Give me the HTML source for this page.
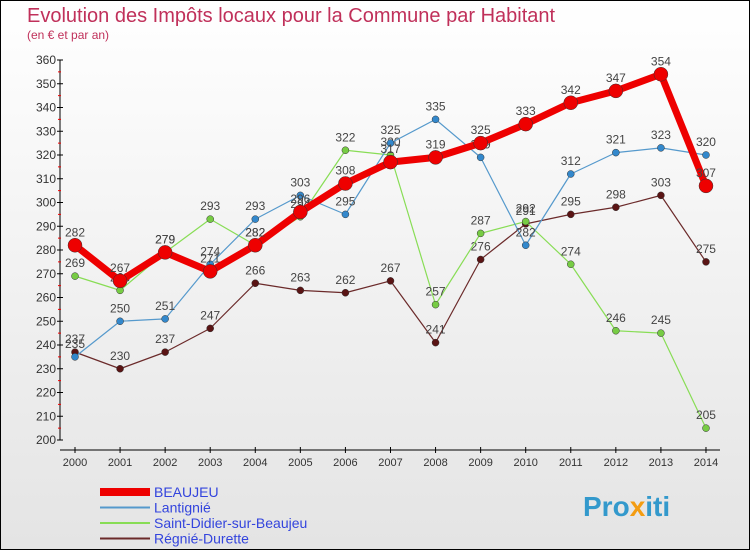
<!DOCTYPE html>
<html><head><meta charset="utf-8"><style>
body{margin:0;width:750px;height:550px;overflow:hidden;font-family:"Liberation Sans",sans-serif}
#wrap{position:absolute;left:0;top:0;width:748px;height:548px;border:1px solid #000;background:linear-gradient(#fff,#e4e4e4)}
</style></head><body>
<div id="wrap">
<svg id="svg" width="750" height="550" style="position:absolute;left:-1px;top:-1px">
<text x="27" y="22" font-size="20" fill="#c0305a">Evolution des Impôts locaux pour la Commune par Habitant</text>
<text x="27" y="39" font-size="12" fill="#c0305a">(en € et par an)</text>
<g id="axes"></g><g id="series"></g><g id="legend"></g>
<text x="583" y="516" font-size="28" font-weight="bold" fill="#3399cc">Pro<tspan fill="#f39c12">x</tspan>iti</text>
</svg></div>
<script>
const years=[2000,2001,2002,2003,2004,2005,2006,2007,2008,2009,2010,2011,2012,2013,2014];
const yTicks=[200,210,220,230,240,250,260,270,280,290,300,310,320,330,340,350,360];
const beaujeu=[282,267,279,271,282,296,308,317,319,325,333,342,347,354,307];
const lantignie=[235,250,251,274,293,303,295,325,335,319,282,312,321,323,320];
const saintDidier=[269,263,279,293,282,294,322,320,257,287,292,274,246,245,205];
const regnie=[237,230,237,247,266,263,262,267,241,276,291,295,298,303,275];
const NS="http://www.w3.org/2000/svg";
const X=i=>75+i*45.07, Y=v=>440-(v-200)*2.375;
function mk(t,a,p){const e=document.createElementNS(NS,t);for(const k in a)e.setAttribute(k,a[k]);p.appendChild(e);return e;}
const ax=document.getElementById('axes');
let yl=mk('line',{x1:60,y1:60,x2:60,y2:440,stroke:'#000'},ax);


let xl=mk('line',{x1:60,y1:450,x2:720,y2:450,stroke:'#000'},ax);


yTicks.forEach(v=>{
 mk('line',{x1:57,y1:Y(v),x2:63,y2:Y(v),stroke:'#000'},ax);
 if(v<360)mk('line',{x1:58,y1:Y(v+5),x2:61,y2:Y(v+5),stroke:'#e00'},ax);
 const t=mk('text',{x:56,y:Y(v)+4,'font-size':12,fill:'#333','text-anchor':'end'},ax);t.textContent=v;
 
 
});
years.forEach((y,i)=>{
 mk('line',{x1:X(i),y1:447,x2:X(i),y2:453,stroke:'#000'},ax);
 const t=mk('text',{x:X(i),y:466,'font-size':11,fill:'#333','text-anchor':'middle'},ax);t.textContent=y;
 
 
});
const sg=document.getElementById('series');
function draw(data,color,w,r,name,dot){
 const g=mk('g',{},sg);
 
 
 mk('polyline',{points:data.map((v,i)=>X(i)+','+Y(v)).join(' '),fill:'none',stroke:color,'stroke-width':w,'stroke-linejoin':'round'},g);
 data.forEach((v,i)=>{
  const c=mk('circle',{cx:X(i),cy:Y(v),r:r,fill:dot,stroke:'#333','stroke-width':0.5},g);
  
  
  const t=mk('text',{x:X(i),y:Y(v)-9,'font-size':12,fill:'#444','text-anchor':'middle'},g);t.textContent=v;
 });
}
draw(regnie,'#6b2a2a',1.2,3.5,'regnie-durette','#5a1414');
draw(saintDidier,'#88dd55',1.2,3.5,'saint-didier','#77cc44');
draw(lantignie,'#5599cc',1.2,3.5,'lantignie','#3388cc');
draw(beaujeu,'#ee0000',7,7,'beaujeu','#ee0000');
const lg=document.getElementById('legend');
[['BEAUJEU','#ee0000',8],['Lantignié','#5599cc',2],['Saint-Didier-sur-Beaujeu','#88dd55',2],['Régnié-Durette','#6b2a2a',2]].forEach((d,i)=>{
 const y=492+i*15.5;
 const g=mk('g',{},lg);
 
 
 mk('line',{x1:100,y1:y,x2:150,y2:y,stroke:d[1],'stroke-width':d[2]},g);
 const t=mk('text',{x:154,y:y+5,'font-size':14,fill:'#3344dd'},g);t.textContent=d[0];
});
</script></body></html>
